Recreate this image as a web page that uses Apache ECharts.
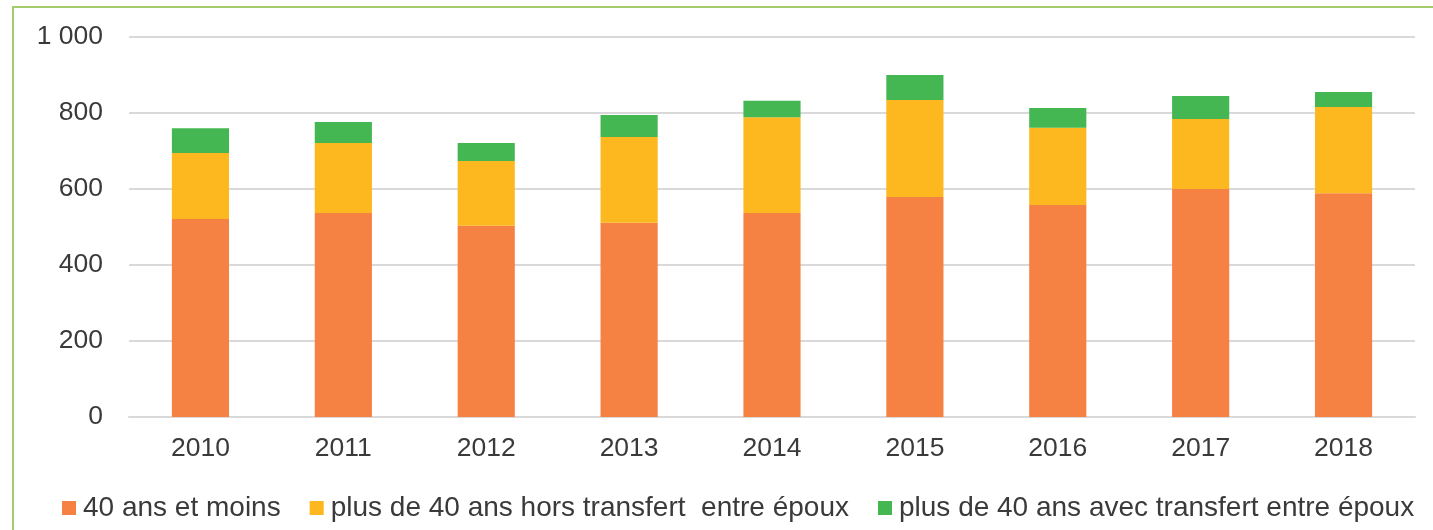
<!DOCTYPE html>
<html>
<head>
<meta charset="utf-8">
<script src="https://cdn.jsdelivr.net/npm/echarts@6/dist/echarts.min.js"></script>
<style>
  html, body { margin: 0; padding: 0; background: #fff; }
  #frame { position: absolute; left: 12px; top: 6px; width: 1440px; height: 540px; border-left: 2px solid #a5cc6b; border-top: 2px solid #a5cc6b; }
  #chart { position: absolute; left: 0; top: 0; width: 1433px; height: 530px; }
</style>
</head>
<body>
<div id="frame"></div>
<div id="chart"></div>
<script>
// data
var years = ['2010', '2011', '2012', '2013', '2014', '2015', '2016', '2017', '2018'];
var moins40 = [521, 537, 503, 511, 537, 579, 558, 600, 589];
var plus40Hors = [174, 184, 171, 226, 252, 255, 203, 184, 227];
var plus40Avec = [65, 55, 47, 58, 43, 66, 52, 61, 39];
var seriesNames = ['40 ans et moins', 'plus de 40 ans hors transfert  entre époux', 'plus de 40 ans avec transfert entre époux'];

var colors = ['#f58143', '#fdb71f', '#44b753'];
var textColor = '#3a3a3a';
var font = 'Liberation Sans, Arial, sans-serif';

var myChart = echarts.init(document.getElementById('chart'));

function bar(name, data) {
  return {
    name: name,
    type: 'bar',
    stack: 'total',
    barWidth: '40%',
    data: data
  };
}

myChart.setOption({
  animation: false,
  color: colors,
  textStyle: { fontFamily: font },
  grid: { left: 129, right: 18, top: 37, bottom: 113 },
  legend: {
    left: 62,
    top: 494,
    padding: 0,
    itemWidth: 14,
    itemHeight: 14,
    itemGap: 29,
    icon: 'rect',
    textStyle: { fontSize: 28, color: textColor, fontFamily: font, padding: [0, 0, 0, 2] },
    data: seriesNames
  },
  xAxis: {
    type: 'category',
    data: years,
    axisTick: { show: false },
    axisLine: { lineStyle: { color: '#d9d9d9', width: 2 } },
    axisLabel: { fontSize: 26.5, color: textColor, margin: 18 }
  },
  yAxis: {
    type: 'value',
    min: 0,
    max: 1000,
    interval: 200,
    axisLabel: {
      fontSize: 26.5,
      color: textColor,
      margin: 26,
      formatter: function (v) { return v >= 1000 ? '1 000' : String(v); }
    },
    splitLine: { lineStyle: { color: '#d9d9d9', width: 2 } }
  },
  series: [
    bar(seriesNames[0], moins40),
    bar(seriesNames[1], plus40Hors),
    bar(seriesNames[2], plus40Avec)
  ]
});
</script>
</body>
</html>
